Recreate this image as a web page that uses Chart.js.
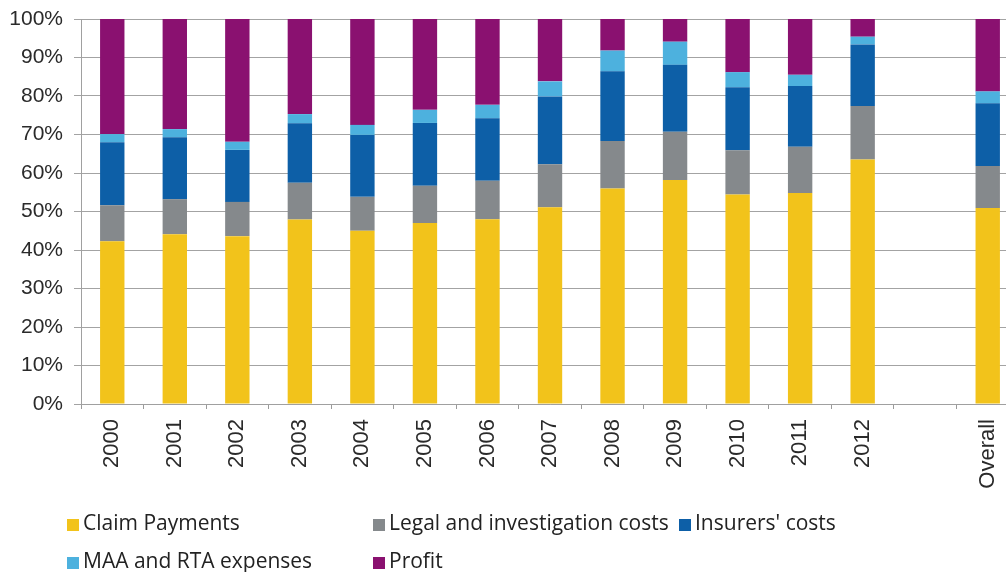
<!DOCTYPE html>
<html>
<head>
<meta charset="utf-8">
<script src="https://cdn.jsdelivr.net/npm/chart.js@4/dist/chart.umd.min.js"></script>
<style>
  html, body { margin: 0; padding: 0; background: #fff; overflow: hidden; }
  #wrap { position: relative; width: 1006px; height: 572px; overflow: hidden; }
  #chart { position: absolute; left: 0; top: 0; }
  .lg { position: absolute; font-family: "Open Sans", "DejaVu Sans", sans-serif; font-size: 21px;
        color: #222; line-height: 24px; white-space: nowrap; }
  .lg i { display: inline-block; width: 12px; height: 12px; margin-right: 4px; vertical-align: -1px; }
</style>
</head>
<body>
<div id="wrap">
  <canvas id="chart" width="1030" height="572"></canvas>
  <div id="legend"></div>
</div>
<script>
// Categories along the x axis (an empty slot separates the yearly bars from the total)
const categories = ['2000','2001','2002','2003','2004','2005','2006','2007','2008','2009','2010','2011','2012','','Overall'];

// Share of premium (%) by component
const claimPayments = [42.3, 44.1, 43.6, 47.9, 45.0, 47.0, 48.0, 51.1, 56.0, 58.2, 54.4, 54.8, 63.5, null, 50.9];
const legalCosts    = [ 9.3,  9.1,  8.9,  9.6,  8.8,  9.7, 10.0, 11.2, 12.3, 12.5, 11.5, 12.0, 13.9, null, 10.9];
const insurersCosts = [16.4, 16.1, 13.5, 15.4, 16.1, 16.3, 16.2, 17.6, 18.1, 17.4, 16.4, 15.8, 16.0, null, 16.3];
const maaRtaExpenses= [ 2.1,  2.1,  2.1,  2.4,  2.6,  3.4,  3.5,  3.9,  5.4,  6.0,  3.9,  2.9,  2.0, null,  3.1];
const profit        = [29.9, 28.6, 31.9, 24.7, 27.5, 23.6, 22.3, 16.2,  8.2,  5.9, 13.8, 14.5,  4.6, null, 18.8];

// Y axis tick values
const yTicks = [0, 10, 20, 30, 40, 50, 60, 70, 80, 90, 100];

const seriesNames = ['Claim Payments', 'Legal and investigation costs', "Insurers' costs", 'MAA and RTA expenses', 'Profit'];
const seriesData = [claimPayments, legalCosts, insurersCosts, maaRtaExpenses, profit];
const seriesColors = ['#F2C31B', '#85898C', '#0D5FA7', '#4DB1DE', '#8A1170'];

const datasets = seriesNames.map((name, i) => ({
  label: name,
  data: seriesData[i],
  backgroundColor: seriesColors[i],
  borderWidth: 0,
  categoryPercentage: 1,
  barPercentage: 0.39
}));

const fontFamily = '"Liberation Sans", Arial, sans-serif';

new Chart(document.getElementById('chart'), {
  type: 'bar',
  data: { labels: categories, datasets },
  options: {
    responsive: false,
    animation: false,
    layout: { padding: { top: 19, right: 11, left: 0, bottom: 0 } },
    plugins: { legend: { display: false }, tooltip: { enabled: false } },
    scales: {
      x: {
        stacked: true,
        offset: true,
        grid: { offset: true, drawOnChartArea: false, drawTicks: true, tickLength: 5, color: '#9a9a9a' },
        border: { display: true, color: '#a0a0a0', width: 1 },
        ticks: { color: '#2a2a2a', font: { family: fontFamily, size: 22 }, minRotation: 90, maxRotation: 90, padding: 10, autoSkip: false },
        afterFit: s => { s.height = 168; }
      },
      y: {
        stacked: true,
        min: 0,
        max: 100,
        afterBuildTicks: s => { s.ticks = yTicks.map(v => ({ value: v })); },
        grid: { color: '#a3a3a3', lineWidth: 1, tickLength: 7 },
        border: { display: true, color: '#a0a0a0', width: 1 },
        ticks: { color: '#2a2a2a', font: { family: fontFamily, size: 21 }, padding: 11, callback: v => v + '%' },
        afterFit: s => { s.width = 81; s.paddingTop = 0; s.paddingBottom = 0; }
      }
    }
  }
});

// Legend laid out in two rows of aligned columns
const legendPos = [[67, 510], [373, 510], [679, 510], [67, 548], [373, 548]];
const legendEl = document.getElementById('legend');
seriesNames.forEach((name, i) => {
  const d = document.createElement('div');
  d.className = 'lg';
  d.style.left = legendPos[i][0] + 'px';
  d.style.top = legendPos[i][1] + 'px';
  d.innerHTML = '<i style="background:' + seriesColors[i] + '"></i>';
  d.appendChild(document.createTextNode(name));
  legendEl.appendChild(d);
});
</script>
</body>
</html>
